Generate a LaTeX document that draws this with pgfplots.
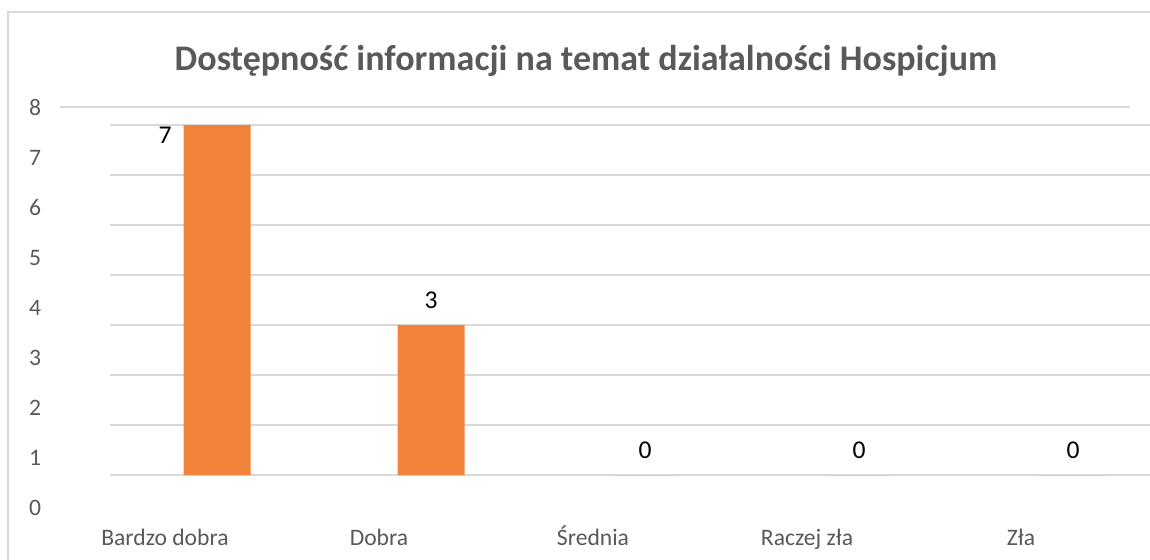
\documentclass[border=0pt]{standalone}
\usepackage{fontspec}
\setmainfont{Carlito}
\usepackage{pgfplots}
\pgfplotsset{compat=1.18}
\definecolor{barorange}{RGB}{240,130,58}
\definecolor{txtgray}{RGB}{89,89,89}
\definecolor{gridgray}{RGB}{217,217,217}
\begin{document}
\begin{tikzpicture}
\useasboundingbox (0,0) rectangle (575pt,279.5pt);
\draw[gridgray, line width=1pt] (4pt,-5pt) -- (4pt,273.5pt) -- (580pt,273.5pt);
\node[font=\fontsize{18}{21}\selectfont\bfseries, text=txtgray] at (293pt,249pt) {Dostępność informacji na temat działalności Hospicjum};
\begin{axis}[
  x=107pt, y=25pt,
  anchor=origin, at={(108.5pt,42pt)},
  xmin=-0.5, xmax=4.36, ymin=-1.24, ymax=7.36,
  axis line style={draw=none},
  major tick length=0pt,
  ytick={-0.66,0.34,1.34,2.34,3.34,4.34,5.34,6.34,7.34},
  yticklabels={0,1,2,3,4,5,6,7,8},
  extra y ticks={0,1,2,3,4,5,6,7},
  extra y tick labels={},
  extra y tick style={grid=major},
  major grid style={gridgray, line width=1pt},
  xtick={-0.243,0.757,1.757,2.757,3.757},
  xticklabels={Bardzo dobra, Dobra, Średnia, Raczej zła, Zła},
  ticklabel style={font=\fontsize{11.8}{14}\selectfont, text=txtgray},
  xticklabel style={anchor=base, yshift=-4pt},
  yticklabel style={anchor=center, xshift=-37.5pt},
  /pgf/number format/assume math mode=true,
  ybar, bar width=33.5pt,
  nodes near coords,
  every node near coord/.append style={anchor=center, yshift=12.5pt, font=\fontsize{12.8}{15}\selectfont, text=black},
  clip=false,
]
\addplot[fill=barorange, draw=none, coordinate style/.condition={\coordindex==0}{xshift=-26pt,yshift=-17.5pt}] coordinates {(0,7) (1,3) (2,0) (3,0) (4,0)};
\draw[gridgray, line width=1pt] (axis cs:-0.734,7.36) -- (axis cs:4.266,7.36);
\end{axis}
\end{tikzpicture}
\end{document}
